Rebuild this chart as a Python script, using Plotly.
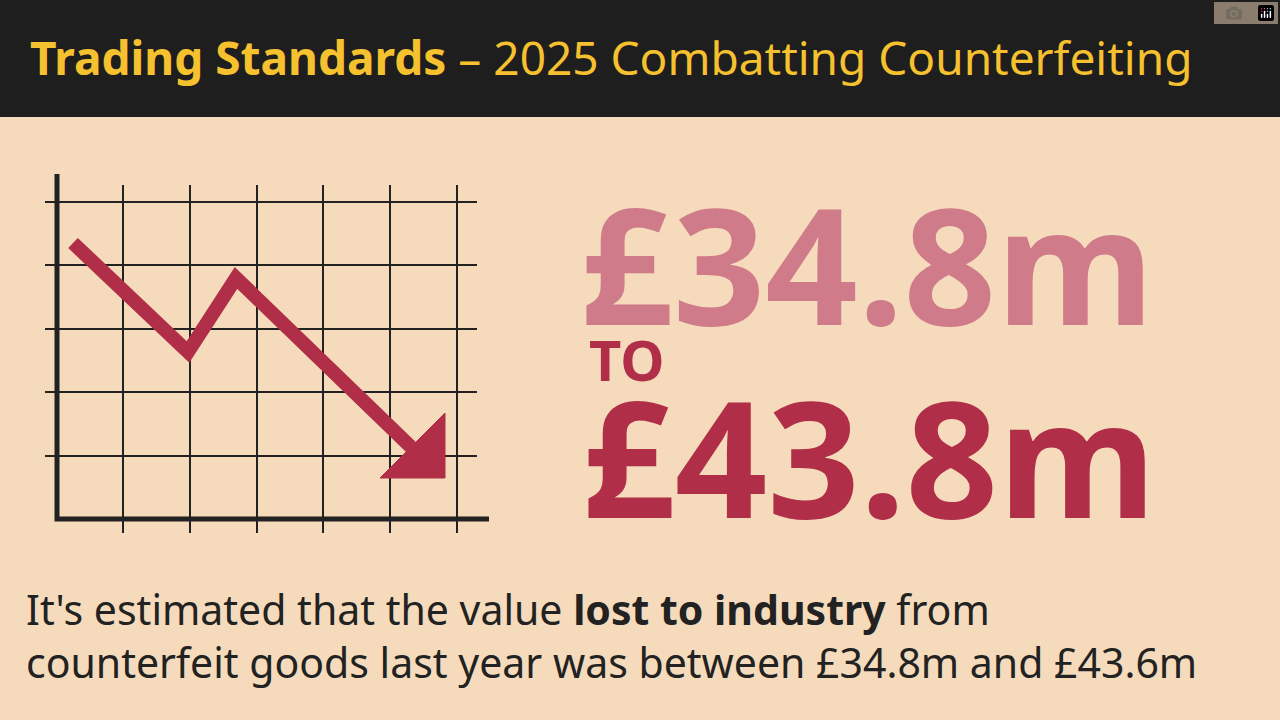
import plotly.graph_objects as go

# header / texts
title_bold = "Trading Standards"
title_rest = " – 2025 Combatting Counterfeiting"
low_value = "£34.8m"
high_value = "£43.8m"
caption_1 = "It's estimated that the value <b>lost to industry</b> from"
caption_2 = "counterfeit goods last year was between £34.8m and £43.6m"

# decorative chart (pixel space)
grid_x = [123, 190, 257, 323, 390, 457]
grid_y = [202, 265, 329, 392, 456]
arrow_x = [73, 188, 236, 412]
arrow_y = [243, 352, 278, 448]
head_x = [445, 445, 380, 445]
head_y = [413, 478, 478, 413]

bg = "#f5dbbb"
dark = "#222222"
gold = "#f6c12e"
rose = "#cf7b8a"
wine = "#b02e47"

fig = go.Figure()

# grid lines
for gx in grid_x:
    fig.add_trace(go.Scatter(x=[gx, gx], y=[185, 533], mode="lines",
                             line=dict(color=dark, width=2), hoverinfo="skip"))
for gy in grid_y:
    fig.add_trace(go.Scatter(x=[45, 477], y=[gy, gy], mode="lines",
                             line=dict(color=dark, width=2), hoverinfo="skip"))
# axes
fig.add_trace(go.Scatter(x=[57, 57, 489], y=[174, 519, 519], mode="lines",
                         line=dict(color=dark, width=5), hoverinfo="skip"))
# arrow
fig.add_trace(go.Scatter(x=arrow_x, y=arrow_y, mode="lines",
                         line=dict(color=wine, width=14), hoverinfo="skip"))
fig.add_trace(go.Scatter(x=head_x, y=head_y, mode="lines", fill="toself",
                         fillcolor=wine, line=dict(color=wine, width=1), hoverinfo="skip"))

fig.add_shape(type="rect", xref="paper", yref="paper", x0=0, x1=1, y0=1, y1=1 - 117 / 720,
              fillcolor="#1e1e1e", line_width=0, layer="below")

font = "Noto Sans"
# annotations render ~27px high here, so nudge them down
dy = 27
fig.add_annotation(x=38, y=60 + dy, xanchor="left", yanchor="middle",
                   text=f"<b>{title_bold}</b>{title_rest}",
                   font=dict(family=font, size=46, color=gold))
fig.add_annotation(x=588, y=265 + dy, xanchor="left", yanchor="middle",
                   text=f"<b>{low_value}</b>", font=dict(family=font, size=162, color=rose))
fig.add_annotation(x=597, y=362 + dy, xanchor="left", yanchor="middle",
                   text="<b>TO</b>", font=dict(family=font, size=56, color=wine))
fig.add_annotation(x=590, y=458 + dy, xanchor="left", yanchor="middle",
                   text=f"<b>{high_value}</b>", font=dict(family=font, size=162, color=wine))
fig.add_annotation(x=34, y=638 + dy, xanchor="left", yanchor="middle", align="left",
                   text=f"{caption_1}<br>{caption_2}",
                   font=dict(family=font, size=41, color=dark))

fig.update_layout(
    width=1280, height=720, margin=dict(l=0, r=0, t=0, b=0),
    paper_bgcolor=bg, plot_bgcolor=bg, showlegend=False,
    xaxis=dict(range=[0, 1280], visible=False, fixedrange=True),
    yaxis=dict(range=[720, 0], visible=False, fixedrange=True),
)
fig.write_html("out.html", post_script="document.body.style.margin='0';")
